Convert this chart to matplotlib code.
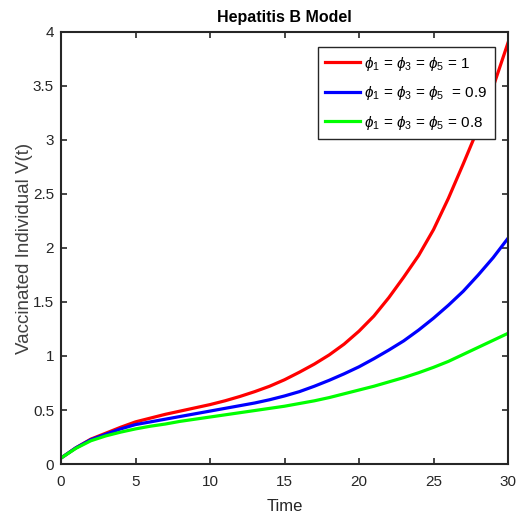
import numpy as np
import matplotlib
matplotlib.use("Agg")
import matplotlib.pyplot as plt

plt.rcParams['font.family'] = ['Liberation Sans', 'DejaVu Sans']
plt.rcParams['mathtext.fontset'] = 'custom'
plt.rcParams['mathtext.rm'] = 'Liberation Sans'
plt.rcParams['mathtext.it'] = 'Liberation Sans:italic'

t = np.arange(0, 31)

v_phi_1 = [0.055, 0.15, 0.23, 0.285, 0.34, 0.39, 0.425, 0.46, 0.49, 0.52, 0.55,
           0.585, 0.625, 0.67, 0.72, 0.78, 0.85, 0.925, 1.01, 1.11, 1.23,
           1.37, 1.54, 1.73, 1.93, 2.17, 2.46, 2.78, 3.11, 3.49, 3.90]
v_phi_09 = [0.055, 0.15, 0.225, 0.275, 0.325, 0.365, 0.39, 0.415, 0.44, 0.465, 0.49,
            0.515, 0.54, 0.565, 0.595, 0.63, 0.67, 0.72, 0.775, 0.835, 0.90,
            0.975, 1.055, 1.14, 1.24, 1.35, 1.47, 1.60, 1.75, 1.91, 2.09]
v_phi_08 = [0.055, 0.145, 0.215, 0.26, 0.295, 0.325, 0.35, 0.37, 0.395, 0.415, 0.435,
            0.455, 0.475, 0.495, 0.515, 0.535, 0.56, 0.585, 0.615, 0.65, 0.685,
            0.72, 0.76, 0.80, 0.845, 0.895, 0.95, 1.015, 1.08, 1.145, 1.21]

labels = [r'$\phi_1$ = $\phi_3$ = $\phi_5$ = 1',
          r'$\phi_1$ = $\phi_3$ = $\phi_5$  = 0.9',
          r'$\phi_1$ = $\phi_3$ = $\phi_5$ = 0.8']
colors = ['#ff0000', '#0000ff', '#00ff00']
ink = '#262626'

fig = plt.figure(figsize=(5.17, 5.21), dpi=100)
ax = fig.add_axes([0.118, 0.1094, 0.8646, 0.8292])

for y, lab, c in zip([v_phi_1, v_phi_09, v_phi_08], labels, colors):
    ax.plot(t, y, color=c, lw=2.3, label=lab, solid_joinstyle='round')

ax.set_xlim(0, 30)
ax.set_ylim(0, 4)
ax.set_xticks(np.arange(0, 31, 5))
ax.set_yticks(np.arange(0, 4.01, 0.5))
ax.set_yticklabels(['0', '0.5', '1', '1.5', '2', '2.5', '3', '3.5', '4'])
ax.tick_params(direction='in', top=True, right=True, length=4.5, width=1.2,
               labelsize=11, colors=ink)
ax.tick_params(axis='x', pad=8)
ax.tick_params(axis='y', pad=5)
for s in ax.spines.values():
    s.set_linewidth(1.5)
    s.set_color(ink)

ax.set_xlabel('Time', fontsize=12, color=ink, labelpad=7)
ax.set_ylabel('Vaccinated Individual V(t)', fontsize=13.5, color='#404040', labelpad=0)
ax.set_title('Hepatitis B Model', fontsize=11.5, fontweight='bold', pad=7)

leg = ax.legend(loc='upper right', bbox_to_anchor=(0.971, 0.965), borderaxespad=0,
                fontsize=11, fancybox=False, framealpha=1, edgecolor=ink,
                handlelength=2.3, handletextpad=0.25, labelspacing=0.75,
                borderpad=0.5)
leg.get_frame().set_linewidth(1.0)

plt.savefig('out.png', dpi=100)
